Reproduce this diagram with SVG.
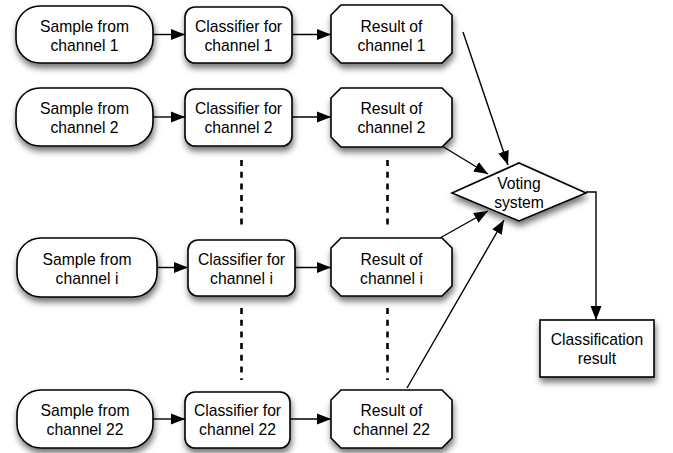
<svg xmlns="http://www.w3.org/2000/svg" width="673" height="453" viewBox="0 0 673 453">
<defs>
<filter id="sh" x="-20%" y="-20%" width="150%" height="160%">
<feDropShadow dx="1" dy="4.5" stdDeviation="3" flood-color="#000" flood-opacity="0.55"/>
</filter>
<marker id="ah" markerUnits="userSpaceOnUse" markerWidth="15" markerHeight="12" refX="14" refY="6" orient="auto">
<path d="M0,0.5 L14,6 L0,11.5 Z" fill="#000"/>
</marker>
<style>
.n{fill:#fff;stroke:#000;stroke-width:1.6;filter:url(#sh)}
text{font-family:"Liberation Sans",Arial,Helvetica,sans-serif;font-size:15.7px;fill:#000;text-anchor:middle}
.c{fill:none;stroke:#000;stroke-width:1.4}
.d{fill:none;stroke:#000;stroke-width:2.6;stroke-dasharray:6,5.7}
</style>
</defs>
<rect width="673" height="453" fill="#fff"/>

<g id="connectors">
<line class="c" x1="153" y1="34.5" x2="185" y2="34.5" marker-end="url(#ah)"/>
<line class="c" x1="292" y1="34.5" x2="331" y2="34.5" marker-end="url(#ah)"/>
<line class="c" x1="153" y1="117" x2="185" y2="117" marker-end="url(#ah)"/>
<line class="c" x1="292" y1="117" x2="331" y2="117" marker-end="url(#ah)"/>
<line class="c" x1="157" y1="267.5" x2="188" y2="267.5" marker-end="url(#ah)"/>
<line class="c" x1="295" y1="267.5" x2="331" y2="267.5" marker-end="url(#ah)"/>
<line class="c" x1="153" y1="419" x2="185" y2="419" marker-end="url(#ah)"/>
<line class="c" x1="290" y1="419" x2="331" y2="419" marker-end="url(#ah)"/>
<line class="c" x1="463" y1="32" x2="508" y2="165" marker-end="url(#ah)"/>
<line class="c" x1="442" y1="146" x2="488" y2="174" marker-end="url(#ah)"/>
<line class="c" x1="440" y1="238" x2="488" y2="211" marker-end="url(#ah)"/>
<line class="c" x1="407" y1="388" x2="504" y2="220" marker-end="url(#ah)"/>
<path class="c" d="M586,192 H596 V320" marker-end="url(#ah)"/>
<line class="d" x1="241.5" y1="160" x2="241.5" y2="230"/>
<line class="d" x1="241.5" y1="308" x2="241.5" y2="380"/>
<line class="d" x1="387.5" y1="160" x2="387.5" y2="230"/>
<line class="d" x1="387.5" y1="308" x2="387.5" y2="380"/>
</g>

<g id="sample1"><rect class="n" x="16" y="6" width="137" height="57" rx="24"/><text x="84.5" y="31.5">Sample from</text><text x="84.5" y="50.5">channel 1</text></g>
<g id="classifier1"><rect class="n" x="185" y="7" width="107" height="56" rx="10"/><text x="238.5" y="31.5">Classifier for</text><text x="238.5" y="50.5">channel 1</text></g>
<g id="result1"><path class="n" d="M341,5 H442 L452,15 V53 L442,63 H341 L331,53 V15 Z"/><text x="391.5" y="31.5">Result of</text><text x="391.5" y="50.5">channel 1</text></g>

<g id="sample2"><rect class="n" x="16" y="88" width="137" height="58" rx="24"/><text x="84.5" y="114">Sample from</text><text x="84.5" y="133">channel 2</text></g>
<g id="classifier2"><rect class="n" x="185" y="89" width="107" height="57" rx="10"/><text x="238.5" y="114">Classifier for</text><text x="238.5" y="133">channel 2</text></g>
<g id="result2"><path class="n" d="M341,88 H442 L452,98 V137 L442,147 H341 L331,137 V98 Z"/><text x="391.5" y="114">Result of</text><text x="391.5" y="133">channel 2</text></g>

<g id="samplei"><rect class="n" x="17" y="238" width="140" height="59" rx="24"/><text x="87" y="264.5">Sample from</text><text x="87" y="283.5">channel i</text></g>
<g id="classifieri"><rect class="n" x="188" y="240" width="107" height="56" rx="10"/><text x="241.5" y="264.5">Classifier for</text><text x="241.5" y="283.5">channel i</text></g>
<g id="resulti"><path class="n" d="M341,238 H442 L452,248 V286 L442,296 H341 L331,286 V248 Z"/><text x="391.5" y="264.5">Result of</text><text x="391.5" y="283.5">channel i</text></g>

<g id="sample22"><rect class="n" x="17" y="390" width="136" height="58" rx="24"/><text x="85" y="416">Sample from</text><text x="85" y="435">channel 22</text></g>
<g id="classifier22"><rect class="n" x="185" y="392" width="105" height="56" rx="10"/><text x="237.5" y="416">Classifier for</text><text x="237.5" y="435">channel 22</text></g>
<g id="result22"><path class="n" d="M341,390 H442 L452,400 V438 L442,448 H341 L331,438 V400 Z"/><text x="391.5" y="416">Result of</text><text x="391.5" y="435">channel 22</text></g>

<g id="voting"><path class="n" d="M452,193 L519,163 L586,193 L519,221 Z"/><text x="519" y="189">Voting</text><text x="519" y="208">system</text></g>

<g id="classification"><rect class="n" x="540" y="320" width="114" height="57"/><text x="597" y="345">Classification</text><text x="597" y="364">result</text></g>
</svg>
